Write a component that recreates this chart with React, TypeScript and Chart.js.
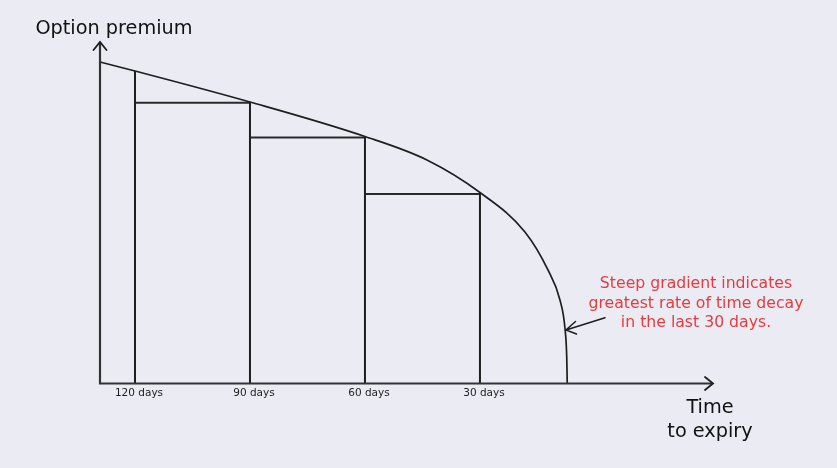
import React, { useEffect, useRef } from "react";
import { Chart, registerables } from "chart.js";

Chart.register(...registerables);

// Time axis: days remaining to expiry (drawn right-to-left toward expiry)
const tickDays = [120, 90, 60, 30];
const tickLabels = ["120 days", "90 days", "60 days", "30 days"];

// Time-decay curve (option premium vs days remaining)
const curveDays = [129.13, 120, 90, 60, 43.83, 30, 18.26, 12.26, 9.13, 7.83, 7.36, 7.23];
const curvePremium = [94.14, 91.51, 82.43, 72.33, 65.45, 55.93, 44.36, 33.24, 24.45, 16.25, 7.76, 0];

// Premium on the curve at each marked day (vertical lines reach up to it)
const tickPremium = [91.51, 82.43, 72.33, 55.93];

// Steps (rectangles) between marked days
const stepStartDays = [120, 90, 60];
const stepEndDays = [90, 60, 30];
const stepPremium = [82.2, 72.0, 55.5];

const yTitle = "Option premium";
const xTitle = ["Time", "to expiry"];
const note = ["Steep gradient indicates", "greatest rate of time decay", "in the last 30 days."];

const BG = "#ebebf4";
const INK = "#1e1e1e";
const AXIS = "#333333";
const RED = "#e83a3e";
const FONT = "'DejaVu Sans', Verdana, sans-serif";

export default function App() {
  const ref = useRef<HTMLCanvasElement | null>(null);

  useEffect(() => {
    const canvas = ref.current;
    if (!canvas) return;

    const datasets: any[] = [];
    datasets.push({
      label: "curve",
      data: curveDays.map((d, i) => ({ x: d, y: curvePremium[i] })),
      showLine: true,
      borderColor: INK,
      borderWidth: 1.7,
      pointRadius: 0,
      cubicInterpolationMode: "monotone",
      fill: false,
      clip: false,
    });
    tickDays.forEach((d, i) => {
      datasets.push({
        label: "v" + i,
        data: [
          { x: d, y: 0 },
          { x: d, y: tickPremium[i] },
        ],
        showLine: true,
        borderColor: INK,
        borderWidth: 2,
        pointRadius: 0,
        fill: false,
      });
    });
    stepStartDays.forEach((d, i) => {
      datasets.push({
        label: "h" + i,
        data: [
          { x: d, y: stepPremium[i] },
          { x: stepEndDays[i], y: stepPremium[i] },
        ],
        showLine: true,
        borderColor: "#2a2a2a",
        borderWidth: 2,
        pointRadius: 0,
        fill: false,
      });
    });

    const decor = {
      id: "decor",
      beforeDraw(chart: any) {
        const c = chart.ctx;
        c.save();
        c.fillStyle = BG;
        c.fillRect(0, 0, chart.width, chart.height);
        c.restore();
      },
      afterDatasetsDraw(chart: any) {
        const c = chart.ctx;
        const a = chart.chartArea;
        c.save();
        // axes
        c.strokeStyle = AXIS;
        c.lineWidth = 2.2;
        c.lineCap = "butt";
        c.beginPath();
        c.moveTo(a.left, a.top);
        c.lineTo(a.left, a.bottom);
        c.lineTo(a.right, a.bottom);
        c.stroke();
        // arrow heads
        c.lineWidth = 1.8;
        c.lineCap = "round";
        c.strokeStyle = INK;
        c.beginPath();
        c.moveTo(a.left - 6.5, a.top + 8);
        c.lineTo(a.left, a.top);
        c.lineTo(a.left + 6.5, a.top + 8);
        c.moveTo(a.right - 8, a.bottom - 6.5);
        c.lineTo(a.right, a.bottom);
        c.lineTo(a.right - 8, a.bottom + 6.5);
        c.stroke();

        // titles
        c.fillStyle = "#111";
        c.font = "19.3px " + FONT;
        c.textAlign = "center";
        c.textBaseline = "middle";
        c.fillText(yTitle, 114, 29);
        c.fillText(xTitle[0], 710, 408);
        c.fillText(xTitle[1], 710, 432);

        // annotation
        c.fillStyle = RED;
        c.font = "15.7px " + FONT;
        c.fillText(note[0], 696, 284);
        c.fillText(note[1], 696, 303.5);
        c.fillText(note[2], 696, 323);

        const tx = 566;
        const ty = 330;
        c.strokeStyle = INK;
        c.lineWidth = 1.5;
        c.beginPath();
        c.moveTo(605, 317.7);
        c.lineTo(tx, ty);
        c.moveTo(tx + 9.5, ty - 8.5);
        c.lineTo(tx, ty);
        c.lineTo(tx + 10.5, ty + 4);
        c.stroke();
        c.restore();
      },
    };

    const chart = new Chart(canvas, {
      type: "scatter",
      data: { datasets },
      options: {
        animation: false,
        responsive: false,
        events: [],
        layout: { padding: { left: 100, right: 124, top: 42, bottom: 0 } },
        plugins: {
          legend: { display: false },
          tooltip: { enabled: false },
          title: { display: false },
        },
        scales: {
          x: {
            type: "linear",
            reverse: true,
            min: -30.8,
            max: 129.13,
            border: { display: false },
            grid: { display: false, drawTicks: false },
            afterBuildTicks: (s: any) => {
              s.ticks = tickDays.map((v) => ({ value: v }));
            },
            afterFit: (s: any) => {
              s.height = 84.5;
            },
            ticks: {
              autoSkip: false,
              maxRotation: 0,
              minRotation: 0,
              padding: 3,
              labelOffset: 4,
              color: INK,
              font: { family: FONT, size: 10.5 },
              callback: (v: any) => {
                const i = tickDays.indexOf(Number(v));
                return i >= 0 ? tickLabels[i] : "";
              },
            },
          },
          y: {
            type: "linear",
            min: 0,
            max: 100,
            display: false,
          },
        },
      },
      plugins: [decor],
    } as any);

    return () => chart.destroy();
  }, []);

  return (
    <div style={{ position: "fixed", left: 0, top: 0, width: 837, height: 468, background: BG }}>
      <canvas ref={ref} width={837} height={468} style={{ display: "block", width: 837, height: 468 }} />
    </div>
  );
}
